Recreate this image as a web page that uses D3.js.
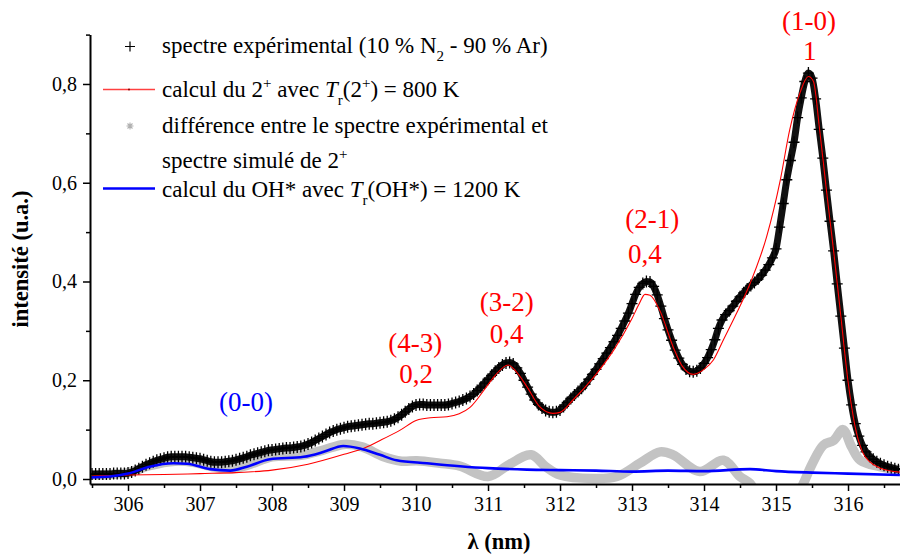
<!DOCTYPE html>
<html><head><meta charset="utf-8">
<script src="https://cdn.jsdelivr.net/npm/d3@7"></script>
<style>
body{margin:0;background:#fff}
svg{display:block}
text{font-family:"Liberation Serif","Times New Roman",serif}
</style>
</head><body>
<svg id="c" width="900" height="556"></svg>
<script>
// ---------- DATA ----------
// experimental spectrum, sampled every 0.05 nm from 305.5 nm
const expStart = 305.5, expStep = 0.05;
const expIntensity = [
0.010,0.010,0.010,0.010,0.010,0.010,0.011,0.011,0.011,0.011,
0.012,0.014,0.017,0.021,0.025,0.029,0.032,0.035,0.038,0.040,
0.042,0.044,0.045,0.045,0.045,0.045,0.045,0.044,0.043,0.042,
0.041,0.039,0.037,0.035,0.034,0.034,0.034,0.035,0.036,0.037,
0.039,0.041,0.043,0.045,0.048,0.050,0.052,0.054,0.056,0.058,
0.059,0.060,0.061,0.062,0.063,0.063,0.064,0.065,0.066,0.068,
0.071,0.074,0.078,0.082,0.086,0.090,0.094,0.097,0.100,0.102,
0.104,0.106,0.107,0.108,0.109,0.110,0.111,0.112,0.112,0.113,
0.114,0.115,0.116,0.118,0.121,0.125,0.130,0.136,0.142,0.147,
0.150,0.151,0.151,0.150,0.150,0.150,0.150,0.150,0.150,0.151,
0.153,0.155,0.157,0.160,0.163,0.167,0.172,0.179,0.186,0.194,
0.202,0.210,0.218,0.225,0.231,0.235,0.236,0.233,0.225,0.214,
0.200,0.186,0.172,0.160,0.151,0.144,0.139,0.136,0.135,0.136,
0.140,0.147,0.155,0.163,0.170,0.177,0.184,0.192,0.202,0.212,
0.222,0.233,0.244,0.255,0.266,0.278,0.291,0.305,0.320,0.336,
0.355,0.374,0.388,0.396,0.400,0.399,0.390,0.373,0.350,0.325,
0.302,0.281,0.261,0.245,0.232,0.223,0.218,0.217,0.219,0.225,
0.234,0.246,0.262,0.282,0.305,0.322,0.333,0.341,0.350,0.360,
0.369,0.377,0.385,0.392,0.398,0.405,0.413,0.423,0.434,0.448,
0.466,0.510,0.558,0.606,0.645,0.682,0.732,0.772,0.805,0.822,
0.812,0.770,0.708,0.650,0.585,0.522,0.462,0.395,0.330,0.265,
0.200,0.150,0.112,0.087,0.068,0.055,0.046,0.040,0.035,0.031,
0.028,0.025,0.023,0.021,0.019
];

// N2 2+ simulated spectrum
const calcLambda = [305.5,306.0,306.5,307.0,307.5,308.0,308.5,309.0,309.3,309.5,309.78,310.01,310.2,310.43,310.6,310.75,310.98,311.1,311.28,311.4,311.54,311.72,311.9,312.0,312.18,312.46,312.75,313.0,313.1,313.18,313.25,313.39,313.57,313.7,313.85,314.0,314.13,314.27,314.45,314.64,314.87,315.06,315.19,315.33,315.45,315.52,315.6,315.7,315.8,315.9,316.0,316.1,316.2,316.3,316.45,316.72];
const calcIntensity = [0.006,0.008,0.009,0.011,0.013,0.018,0.030,0.050,0.064,0.078,0.099,0.119,0.124,0.126,0.132,0.145,0.187,0.210,0.231,0.216,0.187,0.146,0.133,0.135,0.160,0.205,0.262,0.325,0.355,0.374,0.372,0.340,0.268,0.228,0.212,0.222,0.241,0.282,0.335,0.396,0.491,0.606,0.707,0.781,0.815,0.805,0.715,0.585,0.462,0.330,0.198,0.105,0.055,0.035,0.022,0.014];

// OH* simulated spectrum
const ohLambda = [305.47,305.75,306.0,306.3,306.63,306.82,307.14,307.42,307.65,307.97,308.44,308.72,308.99,309.22,309.5,309.73,310.15,310.61,311.0,311.54,312.0,312.5,313.0,313.5,314.0,314.64,315.0,315.5,316.0,316.72];
const ohIntensity = [0.003,0.005,0.011,0.025,0.032,0.031,0.020,0.017,0.025,0.040,0.045,0.055,0.067,0.062,0.049,0.038,0.032,0.026,0.022,0.019,0.018,0.017,0.015,0.017,0.016,0.020,0.016,0.013,0.011,0.008];

// difference experimental - simulated 2+
const diffLambda = [305.47,306.0,306.3,306.65,306.9,307.2,307.45,307.7,308.0,308.4,308.7,309.0,309.25,309.55,309.8,310.01,310.33,310.61,311.0,311.3,311.6,311.8,312.0,312.46,312.79,313.11,313.39,313.57,313.94,314.27,314.5,314.64,314.75,315.3,315.38,315.5,315.66,315.8,315.93,316.05,316.17,316.44,316.72];
const diffIntensity = [0.008,0.013,0.027,0.036,0.034,0.024,0.021,0.030,0.045,0.048,0.058,0.070,0.065,0.045,0.036,0.037,0.032,0.026,0.005,0.030,0.049,0.025,0.008,0.001,0.005,0.032,0.055,0.049,0.015,0.038,0.005,-0.009,-0.03,-0.03,-0.009,0.030,0.069,0.078,0.100,0.065,0.038,0.025,0.018];

const xMajorTicks = [306,307,308,309,310,311,312,313,314,315,316];
const xMinorTicks = [305.5,306.5,307.5,308.5,309.5,310.5,311.5,312.5,313.5,314.5,315.5,316.5];
const yMajorTicks = [0,0.2,0.4,0.6,0.8];
const yMinorTicks = [0.1,0.3,0.5,0.7,0.9];

// band annotations (label, lambda, intensity anchor)
const bandNames  = ["(1-0)","1","(2-1)","0,4","(3-2)","0,4","(4-3)","0,2","(0-0)"];
const bandLambda = [315.458,315.47,313.28,313.18,311.26,311.26,309.99,310.0,307.64];
const bandLevel  = [0.909,0.849,0.508,0.437,0.340,0.275,0.257,0.194,0.138];
const bandColor  = ["red","red","red","red","red","red","red","red","blue"];

// ---------- CHART ----------
const svg = d3.select("#c");
const x = d3.scaleLinear().domain([305.472,316.722]).range([90,900]);
const y = d3.scaleLinear().domain([-0.0101,0.9]).range([484,34.6]);

svg.append("defs").append("clipPath").attr("id","clip")
  .append("rect").attr("x",90).attr("y",30).attr("width",810).attr("height",454);

const plot = svg.append("g").attr("clip-path","url(#clip)");

const expData = expIntensity.map((v,i)=>[expStart+i*expStep, v]);
const calcData = calcLambda.map((l,i)=>[l, calcIntensity[i]]);
const ohData = ohLambda.map((l,i)=>[l, ohIntensity[i]]);
const diffData = diffLambda.map((l,i)=>[l, diffIntensity[i]]);

const lineMono = d3.line().x(d=>x(d[0])).y(d=>y(d[1])).curve(d3.curveMonotoneX);
const lineCR = d3.line().x(d=>x(d[0])).y(d=>y(d[1])).curve(d3.curveCatmullRom.alpha(0.5));

// difference (grey asterisks band)
plot.append("path").datum(diffData).attr("d",lineCR)
  .attr("fill","none").attr("stroke","#c3c3c3").attr("stroke-width",9.5)
  .attr("stroke-linejoin","round").attr("stroke-linecap","round");

// experimental: dense "+" symbols over a line
plot.append("path").datum(expData).attr("d",lineMono)
  .attr("fill","none").attr("stroke","#111").attr("stroke-width",7).attr("stroke-linejoin","round");
plot.append("g").selectAll("path").data(expData).join("path")
  .attr("transform",d=>`translate(${x(d[0])},${y(d[1])})`)
  .attr("d","M-5.5,0H5.5M0,-6V6").attr("stroke","#000").attr("stroke-width",1.3);

// 2+ calc
plot.append("path").datum(calcData).attr("d",lineMono)
  .attr("fill","none").attr("stroke","#ff0000").attr("stroke-width",1.1);

// OH calc
plot.append("path").datum(ohData).attr("d",lineMono)
  .attr("fill","none").attr("stroke","#0000ff").attr("stroke-width",2.6);

// ---------- AXES ----------
const fmt = d => d3.format(".1f")(d).replace(".",",");
svg.append("g").attr("transform","translate(90,0)")
  .call(d3.axisLeft(y).tickValues(yMajorTicks).tickFormat(fmt).tickSize(7).tickPadding(6).tickSizeOuter(0));
svg.append("g").attr("transform","translate(90,0)")
  .call(d3.axisLeft(y).tickValues(yMinorTicks).tickFormat("").tickSize(4).tickSizeOuter(0))
  .select(".domain").remove();
svg.append("g").attr("transform","translate(0,484)")
  .call(d3.axisBottom(x).tickValues(xMajorTicks).tickFormat(d3.format("d")).tickSize(7).tickPadding(6).tickSizeOuter(0));
svg.append("g").attr("transform","translate(0,484)")
  .call(d3.axisBottom(x).tickValues(xMinorTicks).tickFormat("").tickSize(4).tickSizeOuter(0))
  .select(".domain").remove();
svg.selectAll(".domain").attr("stroke","#000").attr("stroke-width",2);
svg.selectAll(".tick line").attr("stroke","#000").attr("stroke-width",1.5);
svg.selectAll(".tick text").attr("font-family","Liberation Serif").attr("font-size",20).attr("fill","#000");

// axis titles
svg.append("text").attr("transform","translate(28,259) rotate(-90)")
  .attr("text-anchor","middle").attr("font-weight","bold").attr("font-size",22.5).text("intensité (u.a.)");
svg.append("text").attr("x",499).attr("y",549)
  .attr("text-anchor","middle").attr("font-weight","bold").attr("font-size",22.5).text("λ (nm)");

// band labels
svg.append("g").selectAll("text").data(bandNames).join("text")
  .attr("x",(d,i)=>x(bandLambda[i])).attr("y",(d,i)=>y(bandLevel[i]))
  .attr("text-anchor","middle").attr("font-size",27).attr("fill",(d,i)=>bandColor[i]).text(d=>d);

// ---------- LEGEND ----------
const legendRows = [
  [["spectre expérimental (10 % N"],["2","sub"],[" - 90 % Ar)"]],
  [["calcul du 2"],["+","sup"],[" avec "],["T","it"],["r","sub"],["(2"],["+","sup"],[") = 800 K"]],
  [["différence entre le spectre expérimental et"]],
  [["spectre simulé de 2"],["+","sup"]],
  [["calcul du OH* avec "],["T","it"],["r","sub"],["(OH*) = 1200 K"]]
];
const legendBaselines = [52.7,96.7,133.3,168.3,196.7];
const lg = svg.append("g");
legendRows.forEach((row,ri)=>{
  const t = lg.append("text").attr("x",162).attr("y",legendBaselines[ri]).attr("font-size",23).attr("fill","#000");
  let shift = 0;
  row.forEach(([s,k])=>{
    const sp = t.append("tspan").text(s);
    let target = 0;
    if(k==="sub"){ target = 8; sp.attr("font-size",15); }
    else if(k==="sup"){ target = -9; sp.attr("font-size",15); }
    else if(k==="it"){ sp.attr("font-style","italic"); }
    sp.attr("dy", target-shift); shift = target;
  });
});
// legend symbols
lg.append("path").attr("d","M125,46.5H135M130,41.5V51.5").attr("stroke","#000").attr("stroke-width",1.2);
lg.append("line").attr("x1",103).attr("x2",155).attr("y1",89.5).attr("y2",89.5).attr("stroke","#ff4040").attr("stroke-width",1.3);
lg.append("circle").attr("cx",129).attr("cy",89.5).attr("r",1).attr("fill","#800");
lg.append("path").attr("d","M126.5,126H133.5M130,122.5V129.5M127.5,123.5L132.5,128.5M132.5,123.5L127.5,128.5")
  .attr("stroke","#b0b0b0").attr("stroke-width",1.1);
lg.append("line").attr("x1",103).attr("x2",155).attr("y1",188.5).attr("y2",188.5).attr("stroke","#0000ff").attr("stroke-width",2.6);
</script>
</body></html>
